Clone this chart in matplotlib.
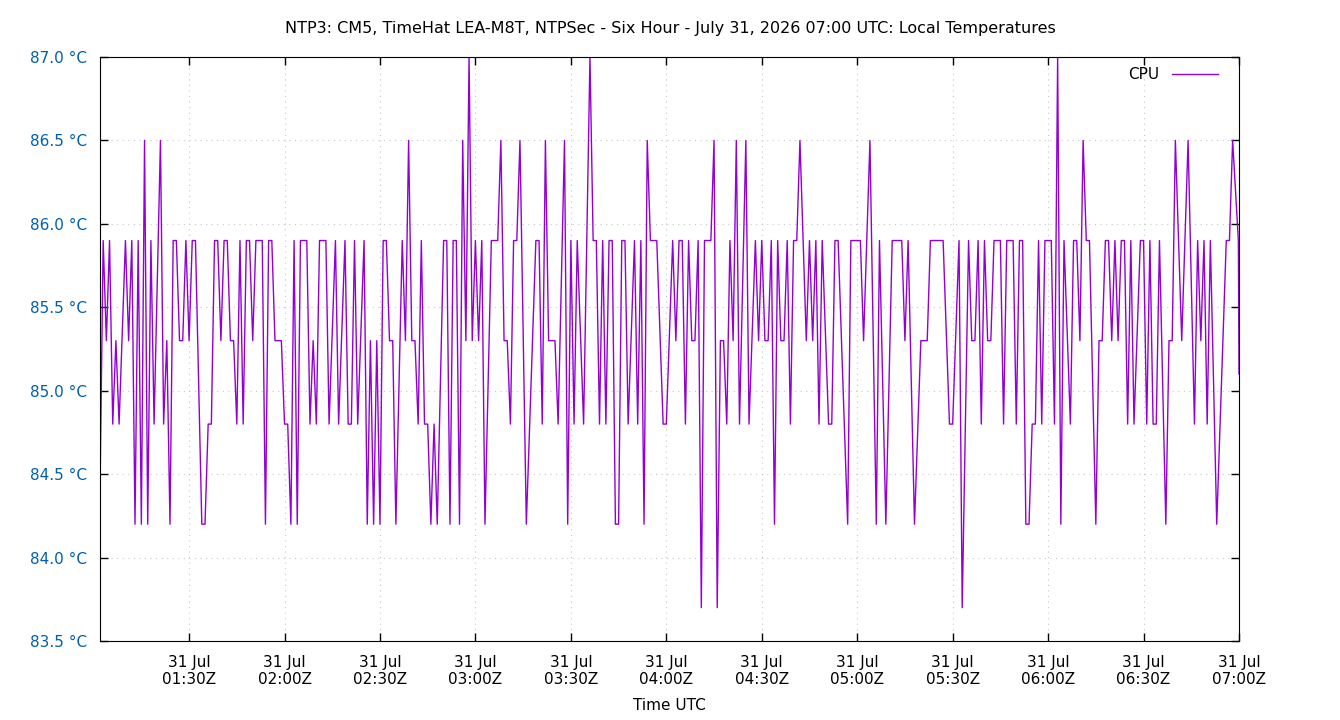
import datetime as dt
import matplotlib
matplotlib.use("Agg")
import matplotlib.pyplot as plt
import matplotlib.dates as mdates
from matplotlib.ticker import MultipleLocator, FormatStrFormatter

# sample times, minutes after 01:02 UTC
minutes = [
    0, 1, 2, 3, 4, 5, 6, 8, 9, 10, 11, 12, 13, 14, 15, 16, 17, 19, 20, 21, 22, 23, 24, 25, 26, 27, 28, 29,
    30, 32, 33, 34, 35, 36, 37, 38, 39, 40, 41, 42, 43, 44, 45, 46, 47, 48, 49, 50, 51, 52, 53, 54, 55, 56, 57, 58, 59,
    60, 61, 62, 63, 64, 65, 66, 67, 68, 69, 70, 71, 72, 74, 75, 77, 78, 79, 80, 81, 83, 84, 85, 86, 87, 88,
    89, 90, 91, 92, 93, 95, 96, 97, 98, 99, 100, 101, 102, 103, 104, 105, 106, 108, 109, 110, 111, 112, 113, 114, 115, 116, 117, 118,
    119, 120, 121, 123, 124, 125, 126, 127, 128, 129, 130, 131, 132, 134, 137, 138, 139, 140, 141, 142, 143, 144, 146, 147,
    148, 149, 150, 152, 154, 155, 156, 157, 158, 159, 160, 161, 162, 163, 164, 165, 166, 168, 169, 170, 171, 172, 173, 174, 175, 177,
    178, 180, 181, 182, 183, 184, 185, 186, 187, 188, 189, 190, 191, 192, 193, 194, 195, 196, 197, 198, 199, 200, 201, 203, 204, 206,
    207, 208, 209, 210, 211, 212, 213, 214, 215, 216, 217, 218, 219, 220, 222, 223, 224, 225, 226, 227, 229, 230, 231, 232, 235, 236,
    237, 238, 239, 240, 242, 244, 245, 247, 249, 250, 251, 252, 253, 254, 256, 258, 259, 260, 261, 262, 263, 264, 265,
    267, 268, 270, 271, 273, 274, 275, 276, 277, 278, 279, 280, 281, 282, 283, 284, 285, 286, 287, 288, 289, 290, 291, 292, 293, 294, 295,
    296, 297, 298, 299, 300, 301, 302, 303, 305, 306, 307, 308, 309, 310, 311, 313, 314, 315, 316, 317, 318, 319, 320, 321, 322, 323, 324,
    325, 327, 328, 329, 330, 331, 332, 333, 335, 336, 337, 338, 340, 342, 344, 345, 346, 347, 348, 349, 351, 354, 355, 356, 357.8, 358,
]

# CPU temperature, deg C
cpu_temp = [
    84.4, 85.9, 85.3, 85.9, 84.8, 85.3, 84.8, 85.9, 85.3, 85.9, 84.2, 85.9, 84.2, 86.5, 84.2, 85.9, 84.8, 86.5, 84.8, 85.3, 84.2, 85.9, 85.9, 85.3, 85.3, 85.9, 85.3, 85.9,
    85.9, 84.2, 84.2, 84.8, 84.8, 85.9, 85.9, 85.3, 85.9, 85.9, 85.3, 85.3, 84.8, 85.9, 84.8, 85.9, 85.9, 85.3, 85.9, 85.9, 85.9, 84.2, 85.9, 85.9, 85.3, 85.3, 85.3, 84.8, 84.8,
    84.2, 85.9, 84.2, 85.9, 85.9, 85.9, 84.8, 85.3, 84.8, 85.9, 85.9, 85.9, 84.8, 85.9, 84.8, 85.9, 84.8, 84.8, 85.9, 84.8, 85.9, 84.2, 85.3, 84.2, 85.3, 84.2,
    85.9, 85.9, 85.3, 85.3, 84.2, 85.9, 85.3, 86.5, 85.3, 85.3, 84.8, 85.9, 84.8, 84.8, 84.2, 84.8, 84.2, 85.9, 85.9, 84.2, 85.9, 85.9, 84.2, 86.5, 85.3, 87.0, 85.3, 85.9,
    85.3, 85.9, 84.2, 85.9, 85.9, 85.9, 86.5, 85.3, 85.3, 84.8, 85.9, 85.9, 86.5, 84.2, 85.9, 85.9, 84.8, 86.5, 85.3, 85.3, 85.3, 84.8, 86.5, 84.2,
    85.9, 84.8, 85.9, 84.8, 87.0, 85.9, 85.9, 84.8, 85.9, 84.8, 85.9, 85.9, 84.2, 84.2, 85.9, 85.9, 84.8, 85.9, 84.8, 85.9, 84.2, 86.5, 85.9, 85.9, 85.9, 84.8,
    84.8, 85.9, 85.3, 85.9, 85.9, 84.8, 85.9, 85.3, 85.3, 85.9, 83.7, 85.9, 85.9, 85.9, 86.5, 83.7, 85.3, 85.3, 84.8, 85.9, 85.3, 86.5, 84.8, 86.5, 84.8, 85.9,
    85.3, 85.9, 85.3, 85.3, 85.9, 84.2, 85.9, 85.3, 85.3, 85.9, 84.8, 85.9, 85.9, 86.5, 85.3, 85.9, 85.3, 85.9, 84.8, 85.9, 84.8, 84.8, 85.9, 85.9, 84.2, 85.9,
    85.9, 85.9, 85.9, 85.3, 86.5, 84.2, 85.9, 84.2, 85.9, 85.9, 85.9, 85.9, 85.3, 85.9, 84.2, 85.3, 85.3, 85.3, 85.9, 85.9, 85.9, 85.9, 85.9,
    84.8, 84.8, 85.9, 83.7, 85.9, 85.3, 85.3, 85.9, 84.8, 85.9, 85.3, 85.3, 85.9, 85.9, 85.9, 84.8, 85.9, 85.9, 85.9, 84.8, 85.9, 85.9, 84.2, 84.2, 84.8, 84.8, 85.9,
    84.8, 85.9, 85.9, 85.9, 84.8, 87.0, 84.2, 85.9, 84.8, 85.9, 85.9, 85.3, 86.5, 85.9, 85.9, 84.2, 85.3, 85.3, 85.9, 85.9, 85.3, 85.9, 85.3, 85.9, 85.9, 84.8, 85.9,
    84.8, 85.9, 85.9, 84.8, 85.9, 84.8, 84.8, 85.9, 84.2, 85.3, 85.3, 86.5, 85.3, 86.5, 84.8, 85.9, 85.3, 85.9, 84.8, 85.9, 84.2, 85.9, 85.9, 86.5, 85.9, 85.1,
]

start = dt.datetime(2026, 7, 31, 1, 2)
times = [start + dt.timedelta(minutes=m) for m in minutes]

title = "NTP3: CM5, TimeHat LEA-M8T, NTPSec - Six Hour - July 31, 2026 07:00 UTC: Local Temperatures"

plt.rcParams['font.family'] = 'DejaVu Sans'
plt.rcParams['font.size'] = 10

fig = plt.figure(figsize=(13.4, 7.2), dpi=100)
ax = fig.add_axes([100 / 1340, 1 - 641 / 720, 1139 / 1340, 584 / 720])

ax.plot(times, cpu_temp, color='#9400d3', linewidth=1, label='CPU')

ax.set_xlim(times[0], times[-1])
ax.set_ylim(83.5, 87.0)

ax.yaxis.set_major_locator(MultipleLocator(0.5))
ax.yaxis.set_major_formatter(FormatStrFormatter('%.1f °C'))
ax.xaxis.set_major_locator(mdates.MinuteLocator(byminute=[0, 30]))
ax.xaxis.set_major_formatter(mdates.DateFormatter('%d %b\n%H:%MZ'))

ax.tick_params(direction='in', length=6, width=1, top=True, right=True)
ax.tick_params(axis='y', labelcolor='#0060ad', labelsize=11, pad=9)
ax.tick_params(axis='x', labelsize=11, pad=10)
for lbl in ax.get_xticklabels():
    lbl.set_linespacing(1.2)

ax.grid(True, color='#c8c8c8', linestyle=(0, (1, 4)), linewidth=0.8)

ax.set_xlabel('Time UTC', fontsize=11, labelpad=8)
fig.text(0.5, 1 - 29 / 720, title, ha='center', va='center', fontsize=11.5)

ax.legend(loc='upper right', bbox_to_anchor=(1 - 6 / 1139, 1 + 5 / 584),
          frameon=False, markerfirst=False, fontsize=11,
          handlelength=3.0, borderaxespad=0.6)

fig.savefig('out.png', dpi=100)
